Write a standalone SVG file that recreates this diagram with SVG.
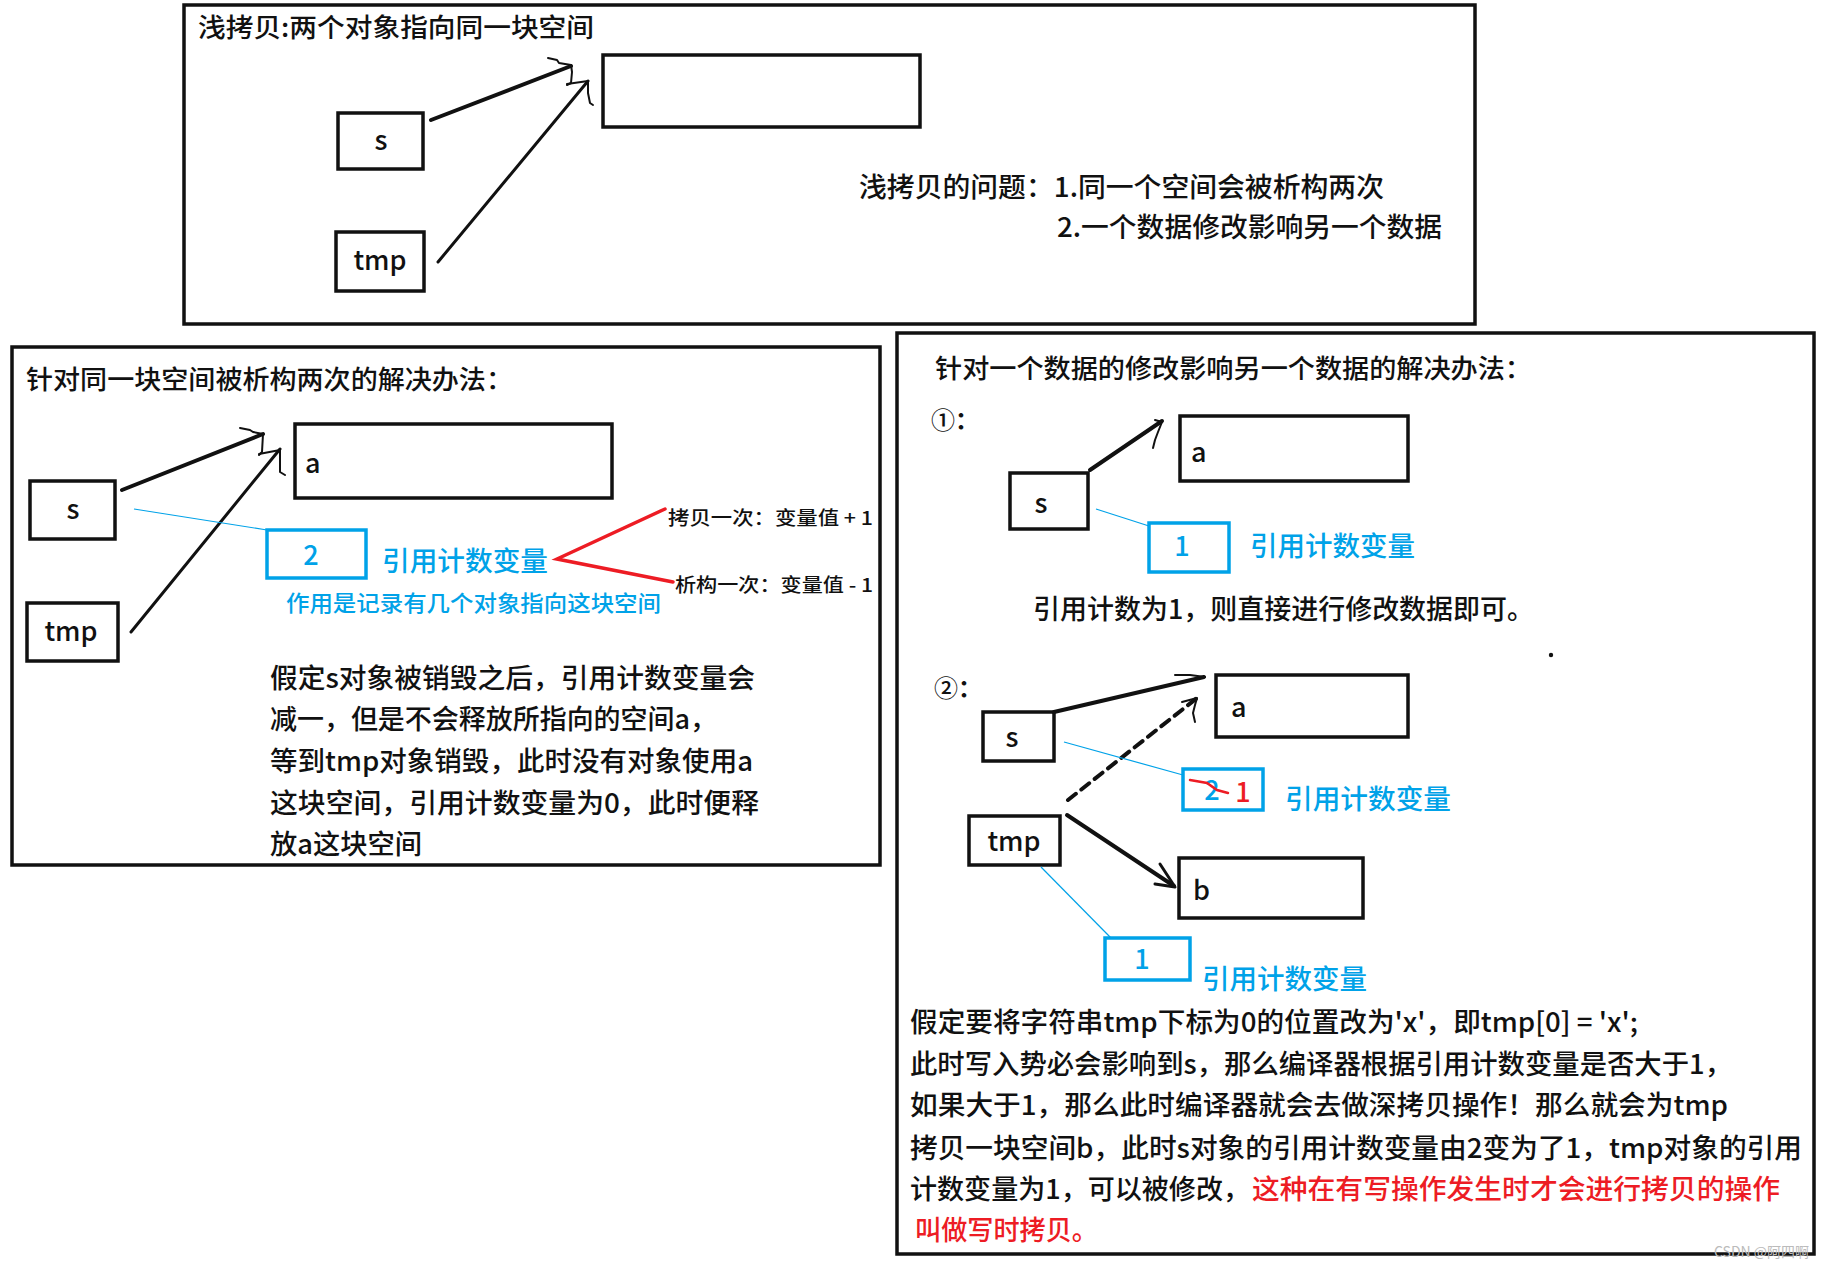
<svg xmlns="http://www.w3.org/2000/svg" width="1828" height="1268" viewBox="0 0 1828 1268">
<style>
text{font-family:"Noto Sans CJK SC","Noto Sans",sans-serif;fill:#111;font-weight:500;}
.frame{fill:none;stroke:#111;stroke-width:3.5;}
.box{fill:#fff;stroke:#111;stroke-width:3.5;}
.bbox{fill:#fff;stroke:#00A2E8;stroke-width:3.5;}
.t{font-size:27px;}
.tt{font-size:26px;}
.lab{font-size:27px;}
.blue{fill:#00A2E8;}
.red{fill:#ED1C24;}
.sm{font-size:19px;}
.arr{fill:none;stroke:#111;stroke-width:4;stroke-linecap:round;}
.arr2{fill:none;stroke:#111;stroke-width:3;stroke-linecap:round;}
.head{fill:none;stroke:#111;stroke-width:2;stroke-linecap:round;stroke-linejoin:round;}
.bl{fill:none;stroke:#00A2E8;stroke-width:1.2;}
.rl{fill:none;stroke:#ED1C24;stroke-width:3.5;stroke-linecap:round;}
</style>
<rect width="1828" height="1268" fill="#fff"/>

<!-- Panel 1 -->
<g id="panel-shallow">
<rect class="frame" x="184" y="5" width="1291" height="319"/>
<text class="tt" x="198" y="37" textLength="396" lengthAdjust="spacingAndGlyphs">浅拷贝:两个对象指向同一块空间</text>
<text class="t" x="859" y="197" textLength="525" lengthAdjust="spacingAndGlyphs">浅拷贝的问题：1.同一个空间会被析构两次</text>
<text class="t" x="1057" y="237" textLength="385" lengthAdjust="spacingAndGlyphs">2.一个数据修改影响另一个数据</text>
</g>
<g id="p1-s"><rect class="box" x="338" y="113" width="85" height="56"/><text class="lab" x="381" y="150" text-anchor="middle">s</text></g>
<g id="p1-tmp"><rect class="box" x="336" y="232" width="88" height="59"/><text class="lab" x="380" y="270" text-anchor="middle">tmp</text></g>
<g id="p1-space"><rect class="box" x="603" y="55" width="317" height="72"/></g>

<!-- Panel 2 -->
<g id="panel-destruct">
<rect class="frame" x="12" y="347" width="868" height="518"/>
<text class="tt" x="26" y="389" textLength="487" lengthAdjust="spacingAndGlyphs">针对同一块空间被析构两次的解决办法：</text>
<text class="t blue" x="382" y="571" textLength="166" lengthAdjust="spacingAndGlyphs">引用计数变量</text>
<text class="blue" style="font-size:22px" x="286" y="611" textLength="375" lengthAdjust="spacingAndGlyphs">作用是记录有几个对象指向这块空间</text>
<text class="sm" x="668" y="525" textLength="205" lengthAdjust="spacingAndGlyphs">拷贝一次：变量值 + 1</text>
<text class="sm" x="675" y="592" textLength="198" lengthAdjust="spacingAndGlyphs">析构一次：变量值 - 1</text>
<text class="t" x="270" y="688" textLength="485" lengthAdjust="spacingAndGlyphs">假定s对象被销毁之后，引用计数变量会</text>
<text class="t" x="270" y="729" textLength="447" lengthAdjust="spacingAndGlyphs">减一，但是不会释放所指向的空间a，</text>
<text class="t" x="270" y="771" textLength="483" lengthAdjust="spacingAndGlyphs">等到tmp对象销毁，此时没有对象使用a</text>
<text class="t" x="270" y="813" textLength="489" lengthAdjust="spacingAndGlyphs">这块空间，引用计数变量为0，此时便释</text>
<text class="t" x="270" y="854" textLength="152" lengthAdjust="spacingAndGlyphs">放a这块空间</text>
</g>
<g id="p2-s"><rect class="box" x="30" y="481" width="85" height="58"/><text class="lab" x="73" y="519" text-anchor="middle">s</text></g>
<g id="p2-tmp"><rect class="box" x="27" y="603" width="91" height="58"/><text class="lab" x="71" y="641" text-anchor="middle">tmp</text></g>
<g id="p2-a"><rect class="box" x="295" y="424" width="317" height="74"/><text class="lab" x="305" y="473">a</text></g>
<g id="p2-count"><rect class="bbox" x="267" y="530" width="99" height="48"/><text class="lab blue" x="311" y="565" text-anchor="middle">2</text></g>

<!-- Panel 3 -->
<g id="panel-cow">
<rect class="frame" x="897" y="333" width="917" height="921"/>
<text class="tt" x="935" y="378" textLength="597" lengthAdjust="spacingAndGlyphs">针对一个数据的修改影响另一个数据的解决办法：</text>
<text style="font-size:24px" x="931" y="429">①<tspan style="font-weight:700">：</tspan></text>
<text class="t blue" x="1250" y="556" textLength="165" lengthAdjust="spacingAndGlyphs">引用计数变量</text>
<text class="t" x="1033" y="619" textLength="501" lengthAdjust="spacingAndGlyphs">引用计数为1，则直接进行修改数据即可。</text>
<circle cx="1551" cy="655" r="2.2" fill="#111"/>
<text style="font-size:24px" x="934" y="697">②<tspan style="font-weight:700">：</tspan></text>
<text class="t blue" x="1285" y="809" textLength="166" lengthAdjust="spacingAndGlyphs">引用计数变量</text>
<text class="t blue" x="1202" y="989" textLength="165" lengthAdjust="spacingAndGlyphs">引用计数变量</text>
<text class="t" x="910" y="1032" textLength="728" lengthAdjust="spacingAndGlyphs">假定要将字符串tmp下标为0的位置改为'x'，即tmp[0] =  'x';</text>
<text class="t" x="910" y="1074" textLength="822" lengthAdjust="spacingAndGlyphs">此时写入势必会影响到s，那么编译器根据引用计数变量是否大于1，</text>
<text class="t" x="910" y="1115" textLength="818" lengthAdjust="spacingAndGlyphs">如果大于1，那么此时编译器就会去做深拷贝操作！那么就会为tmp</text>
<text class="t" x="910" y="1158" textLength="892" lengthAdjust="spacingAndGlyphs">拷贝一块空间b，此时s对象的引用计数变量由2变为了1，tmp对象的引用</text>
<text class="t" x="910" y="1199" textLength="340" lengthAdjust="spacingAndGlyphs">计数变量为1，可以被修改，</text>
<text class="t red" x="1252" y="1199" textLength="528" lengthAdjust="spacingAndGlyphs">这种在有写操作发生时才会进行拷贝的操作</text>
<text class="t red" x="915" y="1240" textLength="183" lengthAdjust="spacingAndGlyphs">叫做写时拷贝。</text>
<text x="1714" y="1257" style="font-size:14px;fill:#bbb;font-weight:400">CSDN @阿四啊</text>
</g>
<g id="p3-s1"><rect class="box" x="1010" y="473" width="78" height="56"/><text class="lab" x="1041" y="513" text-anchor="middle">s</text></g>
<g id="p3-a1"><rect class="box" x="1180" y="416" width="228" height="65"/><text class="lab" x="1191" y="462">a</text></g>
<g id="p3-count1"><rect class="bbox" x="1149" y="523" width="80" height="49"/><text class="lab blue" x="1182" y="556" text-anchor="middle">1</text></g>
<g id="p3-s2"><rect class="box" x="983" y="712" width="71" height="49"/><text class="lab" x="1012" y="747" text-anchor="middle">s</text></g>
<g id="p3-a2"><rect class="box" x="1216" y="675" width="192" height="62"/><text class="lab" x="1231" y="717">a</text></g>
<g id="p3-count2"><rect class="bbox" x="1183" y="769" width="80" height="41"/><text class="lab blue" x="1212" y="800" text-anchor="middle">2</text><path class="rl" style="stroke-width:2.5" d="M1190,780 L1207,783 L1217,790 L1228,793"/><text class="lab red" x="1243" y="802" text-anchor="middle">1</text></g>
<g id="p3-tmp"><rect class="box" x="969" y="816" width="91" height="49"/><text class="lab" x="1014" y="851" text-anchor="middle">tmp</text></g>
<g id="p3-b"><rect class="box" x="1179" y="858" width="184" height="60"/><text class="lab" x="1193" y="900">b</text></g>
<g id="p3-count3"><rect class="bbox" x="1105" y="938" width="85" height="42"/><text class="lab blue" x="1142" y="969" text-anchor="middle">1</text></g>

<g id="connectors">
<!-- panel 1 -->
<path class="arr" d="M431,120 L571,66"/>
<path class="head" d="M548,58 L557,60 L559,63 L571,65 L572,72 L571,83 L567,85"/>
<path class="arr2" d="M438,262 L588,81"/>
<path class="head" d="M567,84 L588,81 L588,93 L590,103 L593,105"/>
<!-- panel 2 -->
<path class="arr" d="M122,490 L263,434"/>
<path class="head" d="M240,428 L250,430 L253,432 L263,434 L262,452 L259,455"/>
<path class="arr2" d="M131,632 L280,449"/>
<path class="head" d="M259,454 L280,450 L280,472 L285,475"/>
<path class="bl" d="M134,509 L267,530"/>
<path class="rl" d="M665,509 L557,559 L673,582"/>
<!-- panel 3 -->
<path class="arr" d="M1090,470 L1162,421"/>
<path class="head" d="M1155,420 L1162,422 L1158,432 L1155,440 L1153,448"/>
<path class="bl" d="M1096,509 L1149,526"/>
<path class="arr" d="M1054,712 L1204,677"/>
<path class="head" d="M1175,675 L1190,675 L1205,677"/>
<path class="arr" stroke-dasharray="10 7" d="M1068,800 L1197,698"/>
<path class="head" d="M1182,702 L1197,698 L1195,705 L1193,713 L1195,722"/>
<path class="bl" d="M1064,742 L1183,775"/>
<path class="arr" d="M1067,815 L1174,886"/>
<path class="head" style="stroke-width:3" d="M1160,864 L1175,887 L1155,884"/>
<path class="bl" d="M1041,867 L1111,938"/>
</g>
</svg>
